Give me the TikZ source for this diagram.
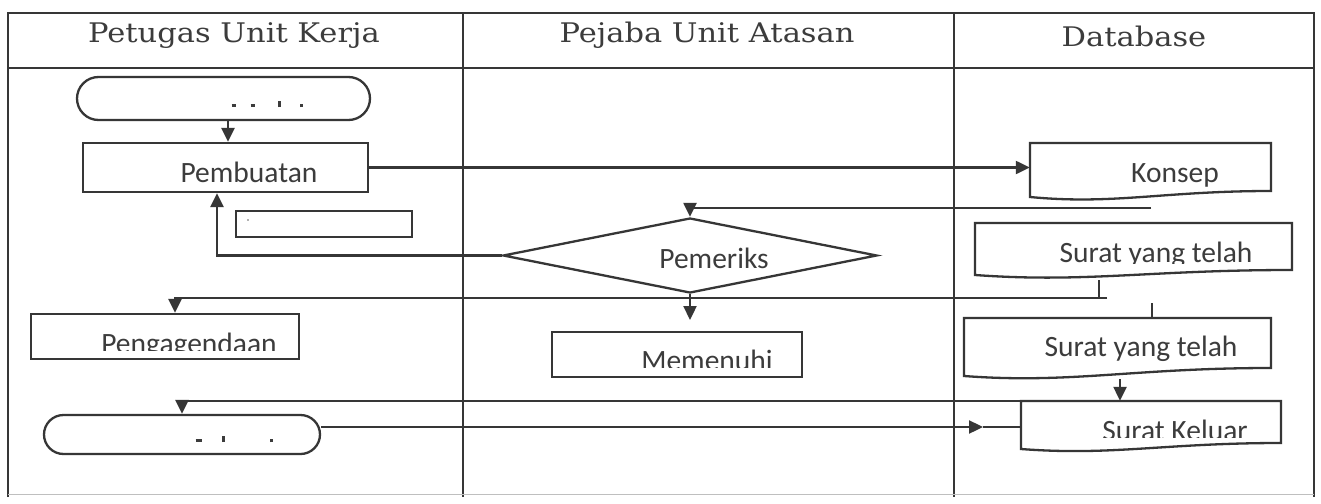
\documentclass[tikz,border=0pt]{standalone}
\usepackage{fontspec}
\setmainfont{Carlito}
\newfontfamily\hdrfont[FakeStretch=1.13]{DejaVu Serif}
\usetikzlibrary{shapes.geometric,arrows.meta}
\definecolor{ink}{HTML}{363636}
\definecolor{txt}{HTML}{3C3C3C}
\begin{document}
\begin{tikzpicture}[x=1pt,y=-1pt,
  ln/.style={draw=ink,line width=2.3pt},
  arr/.style={draw=ink,line width=2.3pt,-{Triangle[length=14pt,width=13pt]}},
  box/.style={ln,rectangle,inner sep=0pt},
  ghost/.style={rectangle,inner sep=0pt},
  lbl/.style={text=txt,font=\fontsize{29.5}{31}\selectfont,anchor=base,inner sep=0pt},
  hdr/.style={text=txt,font=\hdrfont\fontsize{27}{30}\selectfont,anchor=base,inner sep=0pt},
  frameln/.style={draw=ink,line width=2pt}]
\useasboundingbox (0,0) rectangle (1321,503);
\fill[white] (0,0) rectangle (1321,503);

% ---- frame and lanes
\draw[frameln] (8,497) -- (8,13) -- (1314,13) -- (1314,497);
\draw[frameln] (8,68) -- (1314,68);
\draw[frameln] (463,13) -- (463,497);
\draw[frameln] (954,13) -- (954,497);
\draw[draw=black!25,line width=1pt] (8,494) -- (1314,494);

% ---- headers
\node[hdr] (h1) at (234,43) {Petugas Unit Kerja};
\node[hdr] (h2) at (707,43) {Pejaba Unit Atasan};
\node[hdr] (h3) at (1134,46) {Database};

% ---- lane 1
\node[box,rounded corners=21.5pt,minimum width=293pt,minimum height=43pt] (start) at (223.5,98.5) {};
\node[text=txt,inner sep=0pt] (starttxt) at (267,104)
  {\rule{4pt}{3pt}\hspace{15pt}\rule{4pt}{3pt}\hspace{23pt}\rule{3pt}{6pt}\hspace{19pt}\rule{3pt}{3pt}};
\node[box,minimum width=285pt,minimum height=49pt] (pembuatan) at (225.5,167.5) {};
\node[lbl] (pembuatantxt) at (249,182) {Pembuatan};
\node[box,minimum width=176pt,minimum height=26pt] (smallbox) at (324,224) {};
\node[fill=black!30,inner sep=0pt,minimum size=1.5pt] (smalldot) at (248,220) {};
\node[box,minimum width=268pt,minimum height=45pt] (pengagendaan) at (165,336.5) {};
\begin{scope}
  \clip (31,314) rectangle (299,350);
  \node[lbl] (pengagendaantxt) at (189,353) {Pengagendaan};
\end{scope}
\node[box,rounded corners=19.5pt,minimum width=276pt,minimum height=39pt] (endt) at (182,434.5) {};
\node[text=txt,inner sep=0pt] (endtxt) at (234,439)
  {\rule{6pt}{3pt}\hspace{20pt}\rule{3pt}{6pt}\hspace{45pt}\rule{3pt}{3pt}};

% ---- lane 2
\node[ln,diamond,inner sep=0pt,minimum width=374pt,minimum height=75pt] (pem) at (690,255.5) {};
\node[lbl] (pemtxt) at (714,268) {Pemeriks};
\node[box,minimum width=250pt,minimum height=45pt] (memenuhi) at (677,354.5) {};
\begin{scope}
  \clip (552,332) rectangle (802,367);
  \node[lbl] (memenuhitxt) at (707,370) {Memenuhi};
\end{scope}

% ---- lane 3 (documents)
\node[ghost,minimum width=241pt,minimum height=54pt] (konsep) at (1150.5,170) {};
\draw[ln] (1030,197) -- (1030,143) -- (1271,143) -- (1271,191)
  .. controls (1163,191) and (1114,205) .. (1030,197) -- cycle;
\node[lbl] (konseptxt) at (1175,182) {Konsep};

\node[ghost,minimum width=317pt,minimum height=52pt] (s1) at (1133.5,249) {};
\draw[ln] (975,275) -- (975,223) -- (1292,223) -- (1292,270)
  .. controls (1149,270) and (1086,283) .. (975,275) -- cycle;
\begin{scope}
  \clip (975,223) rectangle (1292,263);
  \node[lbl] (s1txt) at (1156,262) {Surat yang telah};
\end{scope}

\node[ghost,minimum width=307pt,minimum height=58pt] (s2) at (1117.5,347) {};
\draw[ln] (964,376) -- (964,318) -- (1271,318) -- (1271,368)
  .. controls (1133,368) and (1071,384) .. (964,376) -- cycle;
\node[lbl] (s2txt) at (1141,356) {Surat yang telah};

\node[ghost,minimum width=260pt,minimum height=48pt] (keluar) at (1151,425) {};
\draw[ln] (1021,449) -- (1021,401) -- (1281,401) -- (1281,443)
  .. controls (1164,443) and (1112,456) .. (1021,449) -- cycle;
\begin{scope}
  \clip (1021,401) rectangle (1281,437);
  \node[lbl] (keluartxt) at (1175,440) {Surat Keluar};
\end{scope}

% ---- connectors
\draw[arr] ([xshift=4.5pt]start.south) -- ([xshift=4.5pt]start.south |- pembuatan.north);
\draw[arr] (pembuatan.east) -- (pembuatan.east -| konsep.west);
\coordinate (k1) at (1151,208);
\draw[arr] (k1) -| (pem.north);
\draw[arr] (pem.west) -| ([xshift=-8.5pt]pembuatan.south);
\coordinate (m1) at (690,320);
\draw[arr] (pem.south) -- (m1);
\coordinate (s1b) at (1099,280);
\coordinate (s1c) at (1099,298);
\draw[ln] (s1b) -- (s1c);
\coordinate (hl) at (1107,298);
\draw[arr] (hl) -| ([xshift=10pt]pengagendaan.north);
\coordinate (tk) at (1152,303);
\draw[ln] (tk) -- (tk |- s2.north);
\coordinate (s2b) at (1120,379);
\draw[arr] (s2b) -- (s2b |- keluar.north);
\draw[arr] (keluar.north west) -| (endt.north);
\coordinate (ea) at (983,427);
\draw[arr] ([yshift=7.5pt]endt.east) -- (ea);
\draw[ln] (ea) -- (ea -| keluar.west);
\end{tikzpicture}
\end{document}
